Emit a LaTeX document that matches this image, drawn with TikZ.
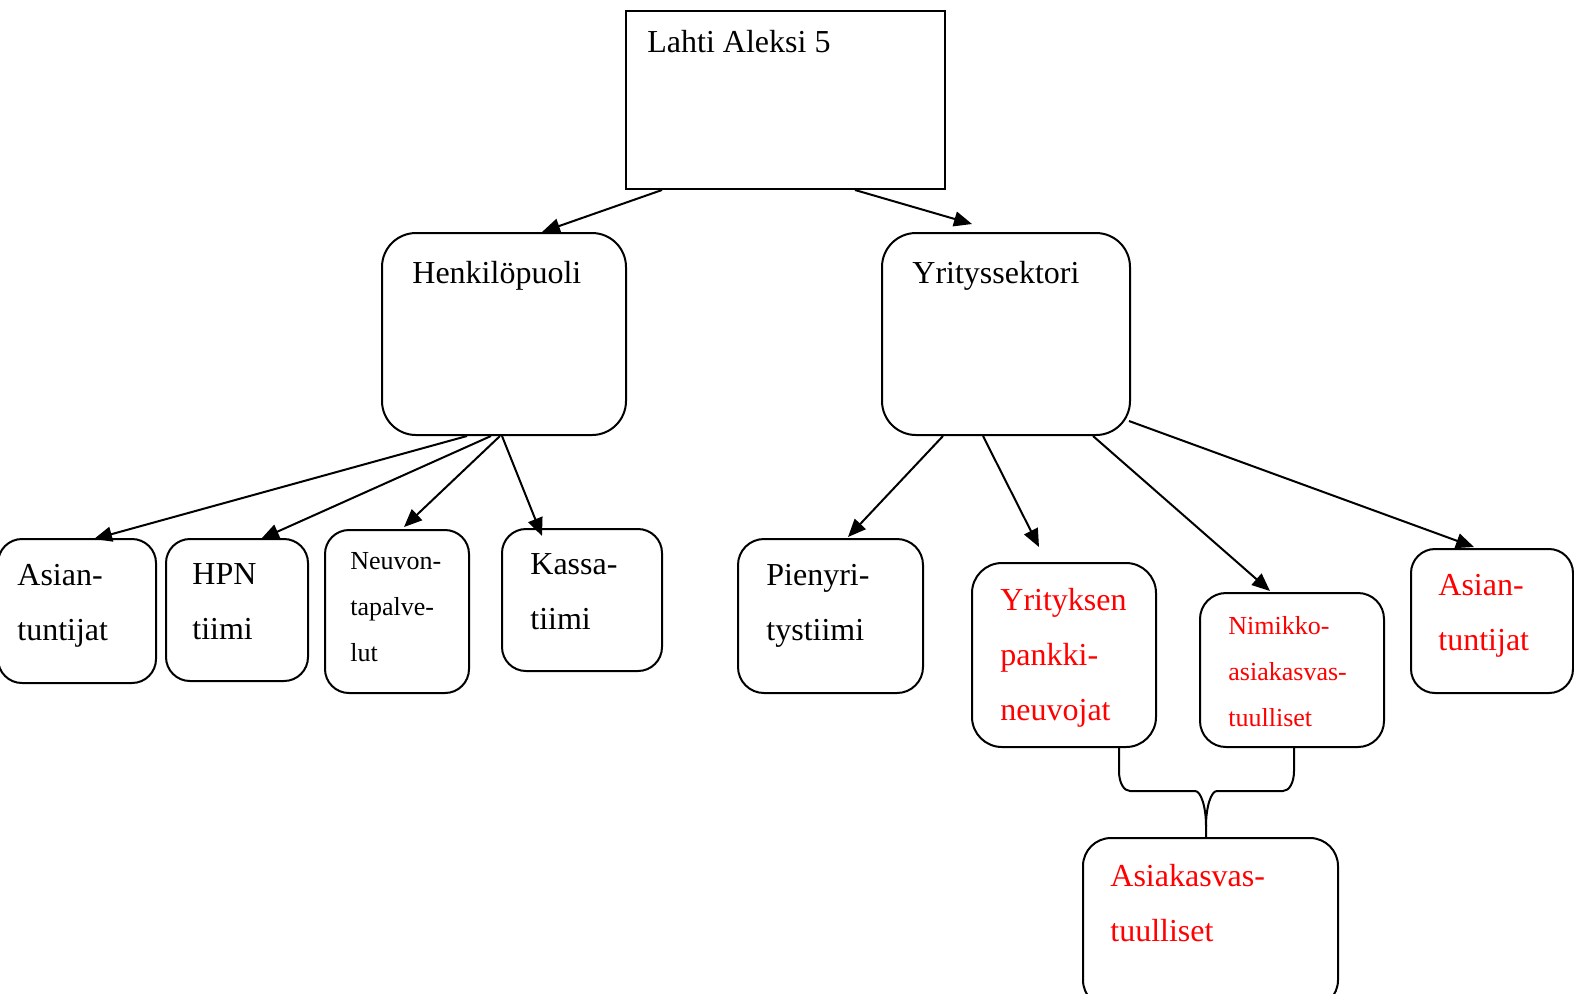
\documentclass[tikz,border=0pt]{standalone}
\usepackage{fontspec}
\setmainfont{Liberation Serif}
\usetikzlibrary{arrows.meta,calc}
\begin{document}
\begin{tikzpicture}[x=0.5pt,y=-0.5pt,
  box/.style={draw,line width=1pt,inner sep=0pt,rounded corners=#1},
  box/.default=12pt,
  lbl/.style={anchor=base west,align=left,inner sep=0pt,font=\fontsize{16}{27.5}\selectfont},
  slbl/.style={anchor=base west,align=left,inner sep=0pt,font=\fontsize{13}{23}\selectfont},
  arr/.style={-{Triangle[length=9pt,width=7.5pt]},line width=1pt},
  link/.style={line width=1pt}]
\clip (0,0) rectangle (1574,993);
% boxes
\node[draw,line width=1pt,inner sep=0pt,minimum width=159.5pt,minimum height=89pt] (top) at (785.5,100) {};
\node[box=17pt,minimum width=122pt,minimum height=101pt] (henk) at (504,334) {};
\node[box=17pt,minimum width=124pt,minimum height=101pt] (yrit) at (1006,334) {};
\node[box,minimum width=79pt,minimum height=72pt] (asl) at (77,611) {};
\node[box,minimum width=71pt,minimum height=71pt] (hpn) at (237,610) {};
\node[box,minimum width=72pt,minimum height=81.5pt] (neu) at (397,611.5) {};
\node[box,minimum width=80pt,minimum height=71pt] (kas) at (582,600) {};
\node[box=13pt,minimum width=92.5pt,minimum height=77pt] (pie) at (830.5,616) {};
\node[box=15pt,minimum width=92pt,minimum height=92pt] (ypn) at (1064,655) {};
\node[box=13pt,minimum width=92pt,minimum height=77pt] (nim) at (1292,670) {};
\node[box,minimum width=81pt,minimum height=72pt] (asr) at (1492,621) {};
\node[box=14pt,minimum width=127.5pt,minimum height=85pt] (ask) at (1210.5,923) {};
% texts (anchored at the baseline of the last line)
\node[lbl] (ttop) at (647,52) {Lahti Aleksi 5};
\node[lbl] (thenk) at (412,283) {Henkilöpuoli};
\node[lbl] (tyrit) at (912,283) {Yrityssektori};
\node[lbl] (tasl) at (17,640) {Asian-\\tuntijat};
\node[lbl] (thpn) at (192,639) {HPN\\tiimi};
\node[slbl] (tneu) at (350,661) {Neuvon-\\tapalve-\\lut};
\node[lbl] (tkas) at (530,629) {Kassa-\\tiimi};
\node[lbl] (tpie) at (766,640) {Pienyri-\\tystiimi};
\node[lbl,text=red] (typn) at (1000,720) {Yrityksen\\pankki-\\neuvojat};
\node[slbl,text=red] (tnim) at (1228,726) {Nimikko-\\asiakasvas-\\tuulliset};
\node[lbl,text=red] (tasr) at (1438,650) {Asian-\\tuntijat};
\node[lbl,text=red] (task) at (1110,941) {Asiakasvas-\\tuulliset};
% arrows
\draw[arr] ($(top.south)+(-123.5,0)$) -- ($(henk.north)+(38,0)$);
\draw[arr] ($(top.south)+(69.5,0)$) -- ($(yrit.north)+(-34,-8)$);
\draw[arr] ($(henk.south)+(-37,0)$) -- ($(asl.north)+(17,1)$);
\draw[arr] ($(henk.south)+(-13,0)$) -- ($(hpn.north)+(24,1)$);
\draw[arr] ($(henk.south)+(-4,0)$) -- ($(neu.north)+(7,-2)$);
\draw[arr] ($(henk.south)+(-2,0)$) -- ($(kas.north)+(-40,8)$);
\draw[arr] ($(yrit.south)+(-63,0)$) -- ($(pie.north)+(17.5,-1)$);
\draw[arr] ($(yrit.south)+(-23,0)$) -- ($(ypn.north)+(-25,-15)$);
\draw[arr] ($(yrit.south)+(87,0)$) -- ($(nim.north)+(-22,-1)$);
\draw[arr] ($(yrit.south east)+(-2,-15)$) -- ($(asr.north)+(-18,-1)$);
% brace-like links
\coordinate (ls) at ($(ypn.south)+(55,0)$);
\coordinate (rs) at ($(nim.south)+(2,0)$);
\coordinate (mid) at ($(ask.north)+(-4.5,0)$);
\draw[link] (ls) -- ++(0,23) .. controls ++(0,12) and ++(-6,0) .. ($(ls |- mid)+(11,-46)$)
  -- ($(mid)+(-11,-46)$) .. controls ++(6,0) and ++(0,-19) .. ($(mid)+(0,-11)$) -- (mid);
\draw[link] (rs) -- ++(0,23) .. controls ++(0,12) and ++(6,0) .. ($(rs |- mid)+(-11,-46)$)
  -- ($(mid)+(11,-46)$) .. controls ++(-6,0) and ++(0,-19) .. ($(mid)+(0,-11)$);
\end{tikzpicture}
\end{document}
